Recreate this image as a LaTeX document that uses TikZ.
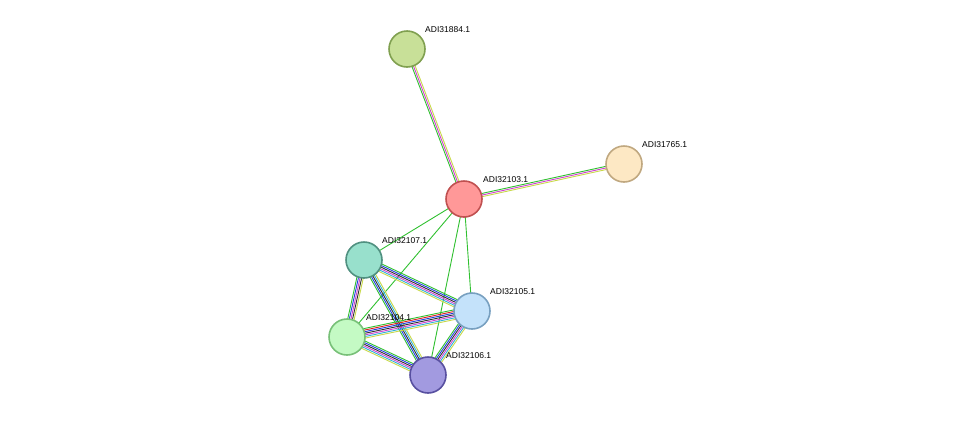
\documentclass[tikz,border=0pt]{standalone}
\usepackage{fontspec}
\setmainfont{Liberation Sans}
\usetikzlibrary{calc,backgrounds,positioning}

\tikzset{
  prot/.style={circle, minimum size=36pt, inner sep=0pt, line width=1.6pt},
  lbl/.style={font=\fontsize{8.5}{10}\selectfont, inner sep=1pt, anchor=south west},
}
\definecolor{ev1}{HTML}{C8D94A}
\definecolor{ev2}{HTML}{D040D0}
\definecolor{ev3}{HTML}{30C030}
\definecolor{ev4}{HTML}{30B0D8}
\definecolor{ev5}{HTML}{303030}
\definecolor{ev6}{HTML}{2040E0}
\definecolor{ev7}{HTML}{E02020}

% multi-coloured link
\newcommand{\plink}[3]{%
  \foreach \c [count=\i] in {#3} {\xdef\nlines{\i}}
  \foreach \c [count=\i] in {#3} {
    \pgfmathsetmacro{\off}{(\i-(\nlines+1)/2)*1.6}
    \draw[\c, line width=0.9pt] ($(#1.center)!\off pt!90:(#2.center)$) -- ($(#2.center)!\off pt!-90:(#1.center)$);
  }
}

\begin{document}
\begin{tikzpicture}[x=1pt,y=-1pt]
\useasboundingbox (0,0) rectangle (976,421);

\node[prot, fill={rgb,255:red,200;green,224;blue,152}, draw={rgb,255:red,128;green,160;blue,80}] (n31884) at (407,49) {};
\node[prot, fill={rgb,255:red,253;green,232;blue,196}, draw={rgb,255:red,192;green,168;blue,128}] (n31765) at (624,164) {};
\node[prot, fill={rgb,255:red,255;green,152;blue,152}, draw={rgb,255:red,192;green,80;blue,80}] (n32103) at (464,199) {};
\node[prot, fill={rgb,255:red,152;green,224;blue,204}, draw={rgb,255:red,80;green,144;blue,128}] (n32107) at (364,260) {};
\node[prot, fill={rgb,255:red,196;green,226;blue,250}, draw={rgb,255:red,120;green,160;blue,192}] (n32105) at (472,311) {};
\node[prot, fill={rgb,255:red,196;green,250;blue,196}, draw={rgb,255:red,120;green,192;blue,120}] (n32104) at (347,337) {};
\node[prot, fill={rgb,255:red,162;green,154;blue,224}, draw={rgb,255:red,88;green,80;blue,160}] (n32106) at (428,375) {};

\node[lbl] (t31884) at (424,34) {ADI31884.1};
\node[lbl] (t31765) at (641,149) {ADI31765.1};
\node[lbl] (t32103) at (482,184) {ADI32103.1};
\node[lbl] (t32107) at (381,245) {ADI32107.1};
\node[lbl] (t32105) at (489,296) {ADI32105.1};
\node[lbl] (t32104) at (365,322) {ADI32104.1};
\node[lbl] (t32106) at (445,360) {ADI32106.1};

\begin{scope}[on background layer]
\plink{n32103}{n31884}{ev1,ev2,ev3}
\plink{n32103}{n31765}{ev1,ev2,ev3}
\plink{n32103}{n32107}{ev3}
\plink{n32103}{n32105}{ev3}
\plink{n32103}{n32104}{ev3}
\plink{n32103}{n32106}{ev3}
\plink{n32107}{n32105}{ev1,ev4,ev2,ev5,ev6,ev3}
\plink{n32107}{n32104}{ev3,ev6,ev2,ev5,ev1}
\plink{n32107}{n32106}{ev3,ev6,ev5,ev4,ev1}
\plink{n32104}{n32105}{ev1,ev4,ev2,ev5,ev6,ev7,ev3}
\plink{n32104}{n32106}{ev1,ev4,ev2,ev5,ev6,ev3}
\plink{n32105}{n32106}{ev3,ev6,ev5,ev2,ev4,ev1}
\end{scope}
\end{tikzpicture}
\end{document}
